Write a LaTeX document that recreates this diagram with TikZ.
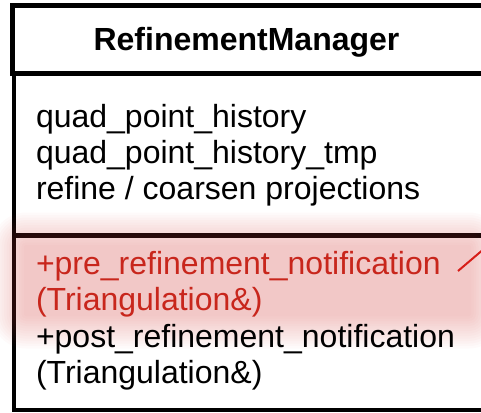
\documentclass[tikz,border=0pt]{standalone}
\usepackage{fontspec}
\setmainfont{Liberation Sans}
\usetikzlibrary{positioning}
\definecolor{notered}{RGB}{200,38,28}
\definecolor{markred}{RGB}{215,30,25}
\definecolor{glowred}{RGB}{210,60,55}

\begin{document}
\begin{tikzpicture}[
    x=1pt,y=-1pt,
    every node/.style={inner sep=0pt,outer sep=0pt},
    heading/.style={font=\fontsize{32}{36}\selectfont\bfseries,anchor=base},
    member/.style={font=\fontsize{32}{36}\selectfont,anchor=base west},
    hot/.style={member,text=notered},
    frame/.style={draw=black,line width=5pt},
    glow/.style={fill=glowred,fill opacity=0.025}
  ]
    \useasboundingbox (0,0) rectangle (481,412);

    % class frame: name box and body
    \draw[frame] (12.5,6) rectangle (486,73);
    \draw[frame,line width=4pt] (14,73) rectangle (492,410);
    \draw[frame] (14,235) -- (492,235);

    % soft highlight over the first operation
    \foreach \k [evaluate=\k as \d using 2.5*\k] in {0,...,13}
      \fill[glow,rounded corners=\d pt+2pt] ({24-\d},{245-\d}) rectangle ({471+\d},{316+\d});

    \node[heading] (title) at (246.5,50) {RefinementManager};

    \node[member] (histA) at (36,127) {quad\_point\_history};
    \node[member] (histB) at (36,163) {quad\_point\_history\_tmp};
    \node[member] (proj) at (36,199) {refine / coarsen projections};

    \node[hot] (preA) at (36,274) {+pre\_refinement\_notification};
    \node[hot] (preB) at (36,310) {(Triangulation\&)};
    \node[member] (postA) at (36,347) {+post\_refinement\_notification};
    \node[member] (postB) at (36,383) {(Triangulation\&)};

    % pointer leaving the frame
    \coordinate (tickA) at (458,271);
    \coordinate (tickB) at (485,248);
    \draw[markred,line width=2pt] (tickA) -- (tickB);
  \end{tikzpicture}
\end{document}
